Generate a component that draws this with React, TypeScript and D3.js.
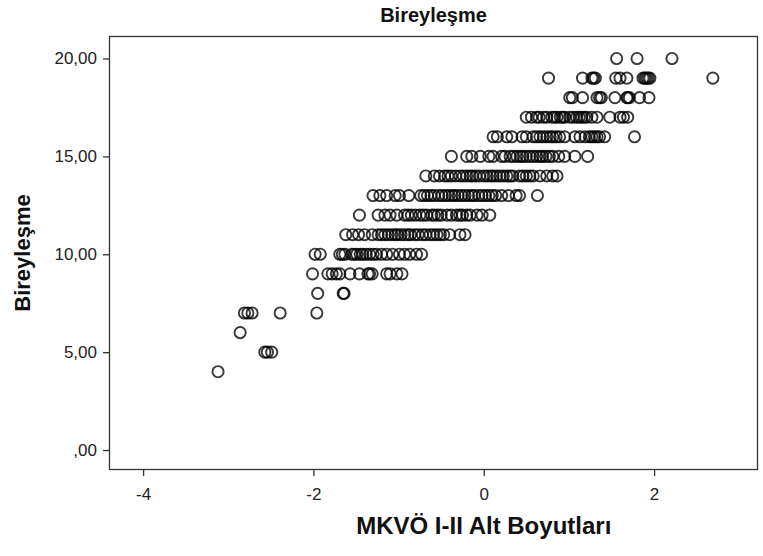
import React, { useEffect, useRef } from "react";
import * as d3 from "d3";

// Bireyleşme score (y) and the MKVÖ I-II factor scores (x) found on that row
const row20 = [1.56, 1.8, 2.21];
const row19 = [0.76, 1.16, 1.27, 1.29, 1.31, 1.55, 1.6, 1.68, 1.87, 1.89, 1.91, 1.93, 1.95, 2.69];
const row18 = [1.01, 1.04, 1.16, 1.33, 1.36, 1.38, 1.54, 1.68, 1.69, 1.71, 1.83, 1.94];
const row17 = [0.5, 0.56, 0.62, 0.65, 0.7, 0.74, 0.8, 0.83, 0.86, 0.9, 0.93, 0.95, 1.01, 1.05, 1.09, 1.12, 1.15, 1.18, 1.21, 1.27, 1.33, 1.48, 1.6, 1.64, 1.69];
const row16 = [0.11, 0.16, 0.27, 0.33, 0.45, 0.5, 0.58, 0.62, 0.66, 0.7, 0.74, 0.78, 0.81, 0.85, 0.89, 0.95, 1.07, 1.13, 1.19, 1.24, 1.27, 1.3, 1.33, 1.36, 1.42, 1.77];
const row15 = [-0.38, -0.2, -0.14, -0.04, 0.06, 0.11, 0.21, 0.25, 0.31, 0.35, 0.39, 0.43, 0.46, 0.5, 0.54, 0.58, 0.62, 0.66, 0.69, 0.73, 0.77, 0.81, 0.88, 0.95, 1.07, 1.22];
const row14 = [-0.68, -0.58, -0.52, -0.46, -0.42, -0.38, -0.33, -0.28, -0.24, -0.2, -0.16, -0.13, -0.09, -0.05, 0.0, 0.04, 0.08, 0.11, 0.15, 0.19, 0.23, 0.27, 0.31, 0.34, 0.42, 0.46, 0.5, 0.54, 0.58, 0.66, 0.74, 0.81, 0.86];
const row13 = [-1.3, -1.22, -1.14, -1.04, -0.99, -0.88, -0.74, -0.7, -0.66, -0.62, -0.58, -0.53, -0.49, -0.45, -0.41, -0.37, -0.34, -0.3, -0.26, -0.22, -0.18, -0.14, -0.11, -0.06, -0.02, 0.02, 0.06, 0.1, 0.14, 0.21, 0.29, 0.38, 0.42, 0.63];
const row12 = [-1.46, -1.24, -1.16, -1.1, -1.02, -0.93, -0.89, -0.85, -0.8, -0.75, -0.71, -0.67, -0.61, -0.58, -0.54, -0.5, -0.43, -0.38, -0.32, -0.28, -0.25, -0.2, -0.16, -0.08, -0.02, 0.07];
const row11 = [-1.62, -1.54, -1.47, -1.4, -1.31, -1.24, -1.2, -1.16, -1.12, -1.08, -1.04, -1.01, -0.97, -0.93, -0.89, -0.86, -0.81, -0.77, -0.72, -0.68, -0.63, -0.59, -0.55, -0.51, -0.47, -0.4, -0.28, -0.22];
const row10 = [-1.98, -1.92, -1.69, -1.66, -1.63, -1.55, -1.52, -1.49, -1.45, -1.42, -1.38, -1.34, -1.3, -1.26, -1.2, -1.14, -1.07, -0.99, -0.93, -0.87, -0.79, -0.73];
const row9 = [-2.01, -1.83, -1.78, -1.73, -1.69, -1.57, -1.46, -1.36, -1.34, -1.31, -1.14, -1.1, -1.02, -0.96];
const row8 = [-1.95, -1.65, -1.64];
const row7 = [-2.81, -2.77, -2.72, -2.39, -1.96];
const row6 = [-2.86];
const row5 = [-2.57, -2.54, -2.49];
const row4 = [-3.12];

const rows: [number, number[]][] = [
  [20, row20], [19, row19], [18, row18], [17, row17], [16, row16], [15, row15],
  [14, row14], [13, row13], [12, row12], [11, row11], [10, row10], [9, row9],
  [8, row8], [7, row7], [6, row6], [5, row5], [4, row4],
];

const xTicks = [-4, -2, 0, 2];
const yTicks = [0, 5, 10, 15, 20];
const yTickLabels = [",00", "5,00", "10,00", "15,00", "20,00"];

const App = () => {
  const svgRef = useRef<SVGSVGElement>(null);

  useEffect(() => {
    const width = 763;
    const height = 556;
    const margin = { top: 36, right: 5, bottom: 86, left: 109 };
    const font = "'Liberation Sans', Arial, sans-serif";

    const svg = d3.select(svgRef.current);
    svg.selectAll("*").remove();
    svg.attr("width", width).attr("height", height);

    const x = d3.scaleLinear().domain([-4.4, 3.22]).range([margin.left, width - margin.right]);
    const y = d3.scaleLinear().domain([-1.02, 21.15]).range([height - margin.bottom, margin.top]);

    const points = rows.flatMap(([score, xs]) => xs.map((v) => ({ x: v, y: score })));

    svg
      .append("text")
      .attr("x", (margin.left + width - margin.right) / 2)
      .attr("y", 22)
      .attr("text-anchor", "middle")
      .attr("font-family", font)
      .attr("font-weight", "bold")
      .attr("font-size", 20)
      .attr("fill", "#111")
      .text("Bireyleşme");

    svg
      .append("g")
      .selectAll("circle")
      .data(points)
      .enter()
      .append("circle")
      .attr("cx", (d) => x(d.x))
      .attr("cy", (d) => y(d.y))
      .attr("r", 5.6)
      .attr("fill", "none")
      .attr("stroke", "#000")
      .attr("stroke-width", 1.9)
      .attr("stroke-opacity", 0.78);

    svg
      .append("rect")
      .attr("x", margin.left + 0.5)
      .attr("y", margin.top + 0.5)
      .attr("width", width - margin.right - margin.left - 1)
      .attr("height", height - margin.bottom - margin.top - 1)
      .attr("fill", "none")
      .attr("stroke", "#333")
      .attr("stroke-width", 1.3);

    const xAxis = svg
      .append("g")
      .attr("transform", "translate(0," + (height - margin.bottom) + ")")
      .call(d3.axisBottom(x).tickValues(xTicks).tickSize(6).tickSizeOuter(0).tickFormat((d) => String(d)));
    xAxis.select(".domain").remove();
    xAxis.selectAll("line").attr("stroke", "#333").attr("stroke-width", 1.3);
    xAxis
      .selectAll("text")
      .attr("font-family", font)
      .attr("font-size", 17)
      .attr("fill", "#222")
      .attr("dy", "1.25em");

    const yAxis = svg
      .append("g")
      .attr("transform", "translate(" + margin.left + ",0)")
      .call(
        d3
          .axisLeft(y)
          .tickValues(yTicks)
          .tickSize(6)
          .tickSizeOuter(0)
          .tickFormat((d, i) => yTickLabels[i])
      );
    yAxis.select(".domain").remove();
    yAxis.selectAll("line").attr("stroke", "#333").attr("stroke-width", 1.3);
    yAxis
      .selectAll("text")
      .attr("font-family", font)
      .attr("font-size", 17)
      .attr("fill", "#222")
      .attr("x", -12);

    svg
      .append("text")
      .attr("x", x(0))
      .attr("y", 534)
      .attr("text-anchor", "middle")
      .attr("font-family", font)
      .attr("font-weight", "bold")
      .attr("font-size", 24)
      .attr("fill", "#111")
      .text("MKVÖ I-II Alt Boyutları");

    svg
      .append("text")
      .attr("transform", "translate(30," + (margin.top + height - margin.bottom) / 2 + ") rotate(-90)")
      .attr("text-anchor", "middle")
      .attr("font-family", font)
      .attr("font-weight", "bold")
      .attr("font-size", 22)
      .attr("fill", "#111")
      .text("Bireyleşme");
  }, []);

  return <svg ref={svgRef} style={{ position: "absolute", left: 0, top: 0 }}></svg>;
};

export default App;
